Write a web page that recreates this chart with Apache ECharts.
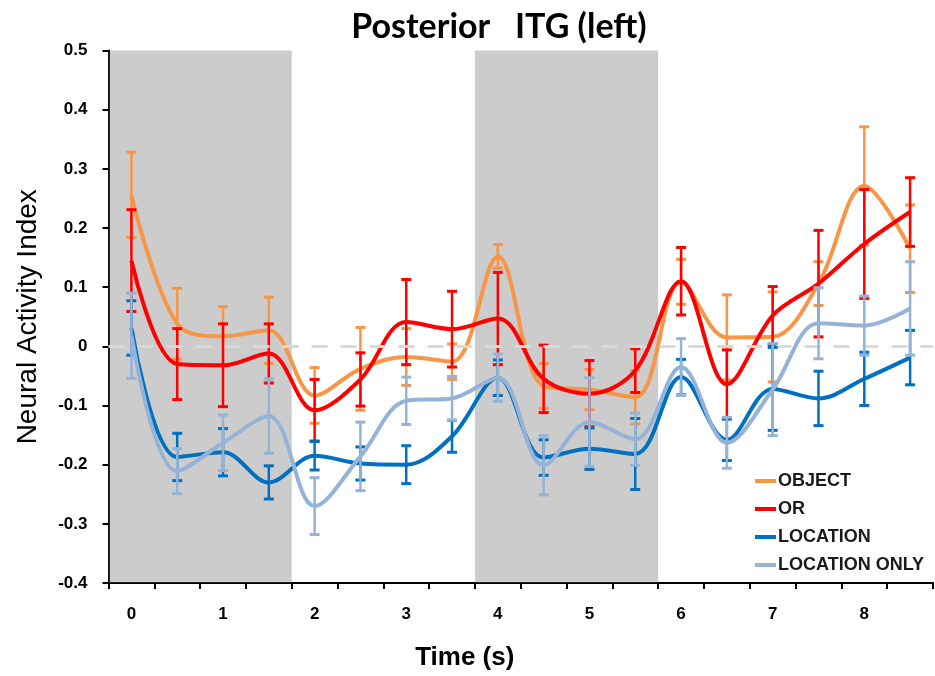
<!DOCTYPE html>
<html>
<head>
<meta charset="utf-8">
<script src="https://cdn.jsdelivr.net/npm/echarts@6/dist/echarts.min.js"></script>
<style>
  html, body { margin: 0; padding: 0; background: #fff; }
  #chart { width: 935px; height: 676px; }
</style>
</head>
<body>
<div id="chart"></div>
<script>
// Time points (s), sampled every 0.5 s
const times = ['0', '0.5', '1', '1.5', '2', '2.5', '3', '3.5', '4', '4.5', '5', '5.5', '6', '6.5', '7', '7.5', '8', '8.5'];

// Mean neural activity index and standard error per condition
const objectMean = [0.256, 0.038, 0.017, 0.027, -0.083, -0.038, -0.018, -0.026, 0.152, -0.067, -0.073, -0.086, 0.109, 0.015, 0.016, 0.106, 0.271, 0.165];
const objectErr  = [0.072, 0.060, 0.050, 0.056, 0.047, 0.070, 0.048, 0.030, 0.020, 0.038, 0.034, 0.045, 0.038, 0.072, 0.076, 0.037, 0.100, 0.074];

const orMean = [0.145, -0.030, -0.032, -0.012, -0.108, -0.056, 0.041, 0.029, 0.047, -0.055, -0.080, -0.041, 0.110, -0.064, 0.052, 0.106, 0.173, 0.227];
const orErr  = [0.086, 0.060, 0.070, 0.050, 0.052, 0.045, 0.072, 0.064, 0.078, 0.057, 0.056, 0.037, 0.057, 0.058, 0.049, 0.090, 0.092, 0.058];

const locationMean = [0.031, -0.187, -0.179, -0.230, -0.185, -0.198, -0.200, -0.152, -0.053, -0.188, -0.173, -0.182, -0.052, -0.158, -0.072, -0.088, -0.055, -0.019];
const locationErr  = [0.046, 0.040, 0.040, 0.028, 0.024, 0.028, 0.032, 0.027, 0.030, 0.030, 0.035, 0.060, 0.030, 0.035, 0.070, 0.046, 0.045, 0.046];

const locOnlyMean = [0.018, -0.211, -0.163, -0.118, -0.270, -0.186, -0.092, -0.088, -0.053, -0.201, -0.128, -0.157, -0.035, -0.163, -0.073, 0.039, 0.035, 0.064];
const locOnlyErr  = [0.072, 0.038, 0.047, 0.063, 0.048, 0.058, 0.040, 0.037, 0.040, 0.050, 0.075, 0.044, 0.048, 0.043, 0.078, 0.060, 0.050, 0.079];

// Shaded task periods (s)
const periods = [[-0.25, 1.75], [3.75, 5.75]];

const conditions = [
  { name: 'OBJECT',        color: '#F79646', mean: objectMean,   err: objectErr },
  { name: 'OR',            color: '#FF0000', mean: orMean,       err: orErr },
  { name: 'LOCATION',      color: '#0070C0', mean: locationMean, err: locationErr },
  { name: 'LOCATION ONLY', color: '#95B3D7', mean: locOnlyMean,  err: locOnlyErr }
];

const tickFont = '"Liberation Sans", Arial, sans-serif';

function errorBarRenderer(color) {
  return function (params, api) {
    const i = api.value(0), m = api.value(1), e = api.value(2);
    const top = api.coord([i, m + e]);
    const bot = api.coord([i, m - e]);
    const hw = 5;
    const style = { stroke: color, lineWidth: 2.5 };
    const capStyle = { stroke: color, lineWidth: 3 };
    return {
      type: 'group',
      children: [
        { type: 'line', shape: { x1: top[0], y1: top[1], x2: bot[0], y2: bot[1] }, style: style },
        { type: 'line', shape: { x1: top[0] - hw, y1: top[1], x2: top[0] + hw, y2: top[1] }, style: capStyle },
        { type: 'line', shape: { x1: bot[0] - hw, y1: bot[1], x2: bot[0] + hw, y2: bot[1] }, style: capStyle }
      ]
    };
  };
}

const series = [];

// zero reference line
series.push({
  type: 'line', data: [], z: 1, silent: true,
  markLine: {
    silent: true, symbol: 'none', label: { show: false },
    lineStyle: { color: '#D9D9D9', width: 3, type: [16, 13] },
    data: [{ yAxis: 0 }]
  }
});

conditions.forEach(function (c, k) {
  series.push({
    name: c.name, type: 'line', data: c.mean, smooth: 0.35,
    showSymbol: false, symbol: 'none', z: 3 + k,
    lineStyle: { color: c.color, width: 4 },
    itemStyle: { color: c.color }
  });
  series.push({
    name: c.name + ' error', type: 'custom', z: 3 + k,
    renderItem: errorBarRenderer(c.color),
    encode: { x: 0, y: 1 },
    data: c.mean.map(function (m, i) { return [i, m, c.err[i]]; })
  });
});

// shaded periods, laid over the traces
series.push({
  type: 'line', xAxisIndex: 1, data: [], z: 20, silent: true,
  markArea: {
    silent: true,
    itemStyle: { color: 'rgba(100,100,100,0.33)' },
    data: periods.map(function (p) { return [{ xAxis: p[0] }, { xAxis: p[1] }]; })
  }
});

const chart = echarts.init(document.getElementById('chart'), null, { renderer: 'canvas' });
chart.setOption({
  animation: false,
  backgroundColor: '#ffffff',
  title: {
    text: 'Posterior   ITG (left)',
    left: 494, top: 5, textAlign: 'center',
    textStyle: { fontFamily: 'Lato, sans-serif', fontWeight: 'bold', fontSize: 34, color: '#000' }
  },
  grid: { left: 108.5, right: 2, top: 50.5, bottom: 93 },
  legend: {
    orient: 'vertical', left: 750, top: 467, itemGap: 10,
    icon: 'rect', itemWidth: 21, itemHeight: 4,
    data: conditions.map(function (c) { return c.name; }),
    textStyle: { fontFamily: tickFont, fontWeight: 'bold', fontSize: 18, color: '#1a1a1a', padding: [0, 0, 0, -3] }
  },
  xAxis: [{
    type: 'category', data: times, boundaryGap: true,
    name: 'Time (s)', nameLocation: 'middle', nameGap: 62,
    nameTextStyle: { fontFamily: tickFont, fontWeight: 'bold', fontSize: 26, color: '#000', padding: [0, 112, 0, 0] },
    axisLine: { onZero: false, lineStyle: { color: '#000', width: 2 } },
    axisTick: { show: true, interval: 0, alignWithLabel: false, length: 6, lineStyle: { color: '#000', width: 2 } },
    axisLabel: { interval: 1, margin: 23, fontFamily: tickFont, fontWeight: 'bold', fontSize: 17, color: '#000' },
    splitLine: { show: false }
  }, {
    type: 'value', min: -0.25, max: 8.75, show: false
  }],
  yAxis: {
    type: 'value', min: -0.4, max: 0.5, interval: 0.1,
    name: 'Neural Activity Index', nameLocation: 'middle', nameGap: 66, nameRotate: 90,
    nameTextStyle: { fontFamily: tickFont, fontSize: 28, color: '#000' },
    axisLine: { show: true, onZero: false, lineStyle: { color: '#000', width: 2 } },
    axisTick: { show: true, length: 6, lineStyle: { color: '#000', width: 2 } },
    axisLabel: {
      margin: 21, fontFamily: tickFont, fontWeight: 'bold', fontSize: 17, color: '#000',
      formatter: function (v) { return Math.abs(v) < 1e-9 ? '0' : v.toFixed(1); }
    },
    splitLine: { show: false }
  },
  series: series
});
</script>
</body>
</html>
